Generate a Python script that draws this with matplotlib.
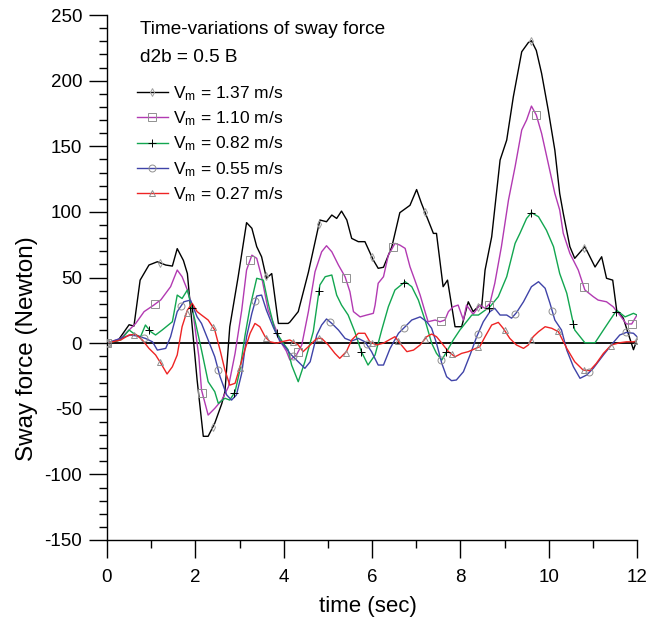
import numpy as np
import matplotlib
matplotlib.use("Agg")
import matplotlib.pyplot as plt
from matplotlib.lines import Line2D
from matplotlib.ticker import MultipleLocator

plt.rcParams['font.family'] = ['Liberation Sans', 'DejaVu Sans']
plt.rcParams['mathtext.default'] = 'regular'
plt.rcParams['axes.unicode_minus'] = False

# ---------------- data ----------------
t_137 = [0, 0.25, 0.5, 0.61, 0.75, 0.95, 1.14, 1.33, 1.48, 1.59, 1.73, 1.82, 2.04, 2.18, 2.29, 2.44,
         2.60, 2.67, 2.78, 2.97, 3.16, 3.28, 3.39, 3.50, 3.61, 3.73, 3.88, 4.10, 4.14, 4.33, 4.56,
         4.82, 4.97, 5.09, 5.20, 5.31, 5.43, 5.54, 5.69, 5.84, 6.03, 6.14, 6.26, 6.45, 6.63, 6.86,
         7.01, 7.12, 7.27, 7.39, 7.46, 7.61, 7.71, 7.88, 8.03, 8.18, 8.29, 8.44, 8.48, 8.56, 8.71,
         8.90, 9.05, 9.20, 9.39, 9.54, 9.61, 9.72, 9.84, 9.99, 10.14, 10.25, 10.33, 10.48, 10.59,
         10.82, 11.05, 11.20, 11.31, 11.45, 11.54, 11.69, 11.80, 11.92, 12.0]
v_137 = [0, 2, 14, 13, 48, 59.5, 62, 59.5, 58.7, 72, 63, 53, -28, -71, -71, -61,
         -46, -37, 12.5, 50.6, 91.8, 87.5, 73.5, 65.8, 49.4, 53, 15, 15, 16, 24, 54,
         93.8, 92.5, 97.6, 95, 100.6, 93.8, 79.8, 77.3, 77.3, 63.3, 57, 57.8, 73.5, 99.4, 105,
         117, 106.5, 93.8, 83.6, 83.6, 43, 48, 12.5, 12.5, 31.5, 24, 29, 26.5, 55.7, 81,
         139.5, 154.7, 187.7, 222, 229, 230.4, 223, 205.5, 177.6, 147, 114, 99, 73.5, 64.6,
         73.5, 58, 65.8, 49.4, 48, 25, 19, 7.5, -5, 2.4]

t_110 = [0, 0.31, 0.5, 0.65, 0.84, 1.06, 1.22, 1.33, 1.44, 1.59, 1.70, 1.82, 1.93, 2.08, 2.14, 2.29,
         2.44, 2.60, 2.75, 2.90, 3.05, 3.16, 3.28, 3.39, 3.50, 3.65, 3.80, 3.95, 4.06, 4.14, 4.29,
         4.41, 4.56, 4.71, 4.86, 4.97, 5.09, 5.24, 5.39, 5.50, 5.58, 5.73, 5.88, 6.03, 6.07, 6.14,
         6.26, 6.37, 6.52, 6.63, 6.75, 6.86, 6.97, 7.09, 7.20, 7.27, 7.43, 7.54, 7.65, 7.73, 7.84,
         7.95, 8.07, 8.14, 8.29, 8.44, 8.56, 8.67, 8.78, 8.93, 9.09, 9.24, 9.39, 9.50, 9.61, 9.72,
         9.84, 9.99, 10.14, 10.25, 10.33, 10.48, 10.67, 10.82, 11.01, 11.12, 11.31, 11.46, 11.61,
         11.76, 11.88, 12.0]
v_110 = [0, 3.6, 10, 15, 24, 29, 33, 38, 43, 55.7, 50.6, 40.5, 27.7, -10.4, -35.7, -54.8,
         -49.7, -43.4, -33.2, -7.8, 25, 55.7, 67, 64.6, 50.6, 25, 12.5, 0, -6, -12.8, -9,
         -1.4, 24, 54.4, 69.6, 74.2, 69.6, 59.5, 50.6, 39.2, 24, 20, 21.4, 22.7, 29, 45.6,
         50.6, 67, 76, 74.7, 72.2, 58.2, 48, 36.6, 24, 16.3, 17.6, 16.3, 17.6, 24, 27.7,
         29, 17.6, 29, 22, 29, 26.5, 30.3, 45.6, 73.5, 109, 134.4, 162.4, 170, 180.6, 173.8,
         159.8, 137, 114, 101.4, 83.7, 68.4, 55.7, 40.5, 35.4, 32.8, 31.5, 27.7, 21.4,
         14.6, 14.6, 21.4]

t_082 = [0, 0.31, 0.5, 0.65, 0.76, 0.87, 0.99, 1.10, 1.25, 1.48, 1.59, 1.70, 1.82, 1.99, 2.14, 2.29,
         2.44, 2.52, 2.67, 2.78, 2.90, 3.01, 3.12, 3.24, 3.39, 3.54, 3.65, 3.80, 3.99, 4.10, 4.18,
         4.33, 4.48, 4.67, 4.82, 4.94, 5.09, 5.20, 5.31, 5.46, 5.61, 5.76, 5.91, 6.07, 6.22, 6.37,
         6.52, 6.75, 6.90, 7.05, 7.20, 7.35, 7.46, 7.58, 7.69, 7.84, 7.99, 8.14, 8.26, 8.41, 8.67,
         8.86, 9.05, 9.24, 9.35, 9.50, 9.61, 9.77, 9.95, 10.11, 10.25, 10.41, 10.59, 10.82, 11.05,
         11.24, 11.39, 11.54, 11.73, 11.92, 12.0]
v_082 = [0, 2.4, 10, 6.2, 4.9, 13.8, 8.7, 6.2, 10, 16.3, 36.6, 34, 40.5, 17.6, -5.3, -29.4,
         -37, -45.9, -42, -43.4, -37, -20.5, 4.9, 27.7, 49.4, 48, 30.3, 10, 0, -5, -16.7,
         -29.4, -14.2, 8.7, 44.3, 50.6, 51.9, 36.6, 29, 21.4, 8.7, -6.5, -16.7, -9, 10, 27.7,
         40.5, 46.8, 43, 32.8, 17.6, 0, -7.8, -12.9, -6.5, 2.4, 10, 16.3, 21.4, 21.4, 27.7,
         35.4, 50.6, 76, 83.7, 95, 99.4, 96.3, 86, 73.5, 53, 38, 10, 0.3, 0.3,
         10, 17.6, 25, 20, 22.7, 21.4]

t_055 = [0, 0.31, 0.53, 0.69, 0.87, 1.03, 1.14, 1.33, 1.44, 1.59, 1.74, 1.89, 2.04, 2.14, 2.29, 2.44,
         2.56, 2.71, 2.82, 2.93, 3.05, 3.16, 3.28, 3.39, 3.50, 3.61, 3.76, 3.92, 4.03, 4.14, 4.33,
         4.48, 4.60, 4.75, 4.86, 4.97, 5.09, 5.24, 5.39, 5.54, 5.69, 5.84, 5.99, 6.14, 6.26, 6.41,
         6.60, 6.75, 6.90, 7.09, 7.24, 7.35, 7.46, 7.58, 7.69, 7.80, 7.91, 8.07, 8.22, 8.37, 8.52,
         8.67, 8.78, 8.90, 9.05, 9.16, 9.27, 9.43, 9.61, 9.77, 9.92, 10.03, 10.14, 10.29, 10.41,
         10.56, 10.71, 10.86, 11.01, 11.24, 11.46, 11.61, 11.76, 11.92, 12.0]
v_055 = [0, 3.6, 6.2, 5.4, 3.6, 1, -5.3, -4, 4.9, 24, 31.5, 32.8, 20, 15, 2.4, -10.4,
         -25.6, -39.5, -43.4, -39.5, -23, 4.9, 22.7, 35.9, 36.6, 25, 12.5, 1, -2.7, -7.8, -14.2,
         -19.2, -14.2, 6.2, 13.8, 18.4, 15, 10, 3.6, 1.6, 3.6, 1, -6.5, -16.7, -16.7, -4,
         7.5, 12.5, 17.6, 20, 16.3, 11.3, 0, -15.4, -25.6, -28.6, -28.1, -21.8, -9, 4.9, 16.3,
         24, 26.5, 21.4, 21.4, 19, 23.2, 31.5, 43, 46.8, 41.8, 30.3, 17.6, 10, -5.3,
         -18, -26.8, -24.3, -19.2, -9, 0.3, 6.2, 8.2, 7.5, 4.9]

t_027 = [0, 0.31, 0.5, 0.65, 0.80, 0.95, 1.10, 1.22, 1.36, 1.48, 1.59, 1.70, 1.82, 1.93, 2.04, 2.14,
         2.29, 2.44, 2.56, 2.67, 2.78, 2.90, 3.01, 3.12, 3.24, 3.35, 3.46, 3.58, 3.69, 3.84, 3.95,
         4.14, 4.33, 4.44, 4.60, 4.75, 4.86, 5.01, 5.16, 5.27, 5.42, 5.54, 5.69, 5.84, 5.95, 6.10,
         6.26, 6.41, 6.52, 6.63, 6.79, 6.94, 7.09, 7.24, 7.35, 7.46, 7.58, 7.73, 7.88, 8.03, 8.18,
         8.26, 8.44, 8.56, 8.71, 8.86, 8.97, 9.12, 9.27, 9.43, 9.54, 9.65, 9.77, 9.92, 10.07, 10.22,
         10.41, 10.59, 10.78, 10.93, 11.08, 11.24, 11.42, 11.61, 11.76, 11.92, 12.0]
v_027 = [0, 2.4, 6.2, 6.7, 2.4, -4, -9, -15.4, -23.5, -18, -9, 12.5, 25.2, 30.3, 24, 21.4,
         17.6, 10, -5.3, -20.5, -32, -30.6, -18, -5.3, 7.5, 15, 12.5, 4.9, 1, 0, 1,
         2.4, -1.4, -6.5, -1.4, 3.6, 3.6, -1.4, -7.8, -11.6, -6.5, 2.4, 7.5, 7.5, 1, -1.4,
         0, 2.9, 4.9, 0, -6.5, -5.3, -1.4, 4.9, 6.9, 4.9, 0, -6.5, -10.4, -7.8, -6.5,
         -5.3, -2.7, 4.9, 13.8, 15.8, 11.3, 3.6, -1.4, -4, -1.4, 4.9, 8.7, 12.5, 11.3, 8.7,
         -4, -14.2, -20.5, -21, -15.4, -7.8, -1.4, 0.3, 1, 1, 1.8]

labels = ['V$_m$ = 1.37 m/s', 'V$_m$ = 1.10 m/s', 'V$_m$ = 0.82 m/s',
          'V$_m$ = 0.55 m/s', 'V$_m$ = 0.27 m/s']
marker_step = [1.2, 1.08, 0.96, 0.84, 0.6]

# ---------------- styling ----------------
colors = ['#000000', '#B23AB2', '#12A650', '#3F43A8', '#EE2424']
markers = ['d', 's', '+', 'o', '^']
mcolors = ['#A0A0A0', '#909090', '#000000', '#909090', '#909090']
msizes = [4, 5.5, 6, 5, 5]

series = [(t_137, v_137), (t_110, v_110), (t_082, v_082), (t_055, v_055), (t_027, v_027)]

fig = plt.figure(figsize=(6.5, 6.23), dpi=100)
ax = fig.add_axes([107/650, 1 - 540/623, 530/650, 525/623])

ax.axhline(0, color='black', lw=1.3, zorder=1)

handles = []
for (t, v), c, m, mc, ms, step, lab in zip(series, colors, markers, mcolors, msizes, marker_step, labels):
    t = np.asarray(t, float)
    v = np.asarray(v, float)
    ax.plot(t, v, color=c, lw=1.0, zorder=2)
    mt = np.arange(0, 12.0001, step)
    ax.plot(mt, np.interp(mt, t, v), ls='none', marker=m, ms=ms, mfc='none',
            mec=mc, mew=0.7, zorder=3)
    handles.append(Line2D([], [], color=c, lw=1.0, marker=m, ms=ms, mfc='none',
                          mec=mc, mew=0.7))

ax.set_xlim(0, 12)
ax.set_ylim(-150, 250)
ax.xaxis.set_major_locator(MultipleLocator(2))
ax.xaxis.set_minor_locator(MultipleLocator(1))
ax.yaxis.set_major_locator(MultipleLocator(50))
ax.yaxis.set_minor_locator(MultipleLocator(10))
ax.tick_params(which='major', direction='out', length=13, width=1.0, labelsize=13.5, pad=5)
ax.tick_params(axis='x', which='major', pad=8)
ax.tick_params(which='minor', direction='out', length=6, width=1.0)
for s in ['top', 'right']:
    ax.spines[s].set_visible(False)
for s in ['left', 'bottom']:
    ax.spines[s].set_linewidth(1.0)

ax.set_xlabel('time (sec)', fontsize=16)
ax.xaxis.set_label_coords((368 - 107) / 530, -(596 - 540) / 525)
ax.set_ylabel('Sway force (Newton)', fontsize=17.5)
ax.yaxis.set_label_coords((38 - 107) / 530, (540 - 349) / 525)

fig.text(140/650, 1 - 30/623, 'Time-variations of sway force', fontsize=13.7, va='center', ha='left')
fig.text(140/650, 1 - 57/623, 'd2b = 0.5 B', fontsize=13.7, va='center', ha='left')

leg = fig.legend(handles, labels, loc='upper left', bbox_to_anchor=(137/650, 1 - 84/623),
                 frameon=False, fontsize=12.5, handlelength=1.78, handletextpad=0.3,
                 labelspacing=0.38, borderaxespad=0, borderpad=0)

fig.savefig('out.png', dpi=100)
